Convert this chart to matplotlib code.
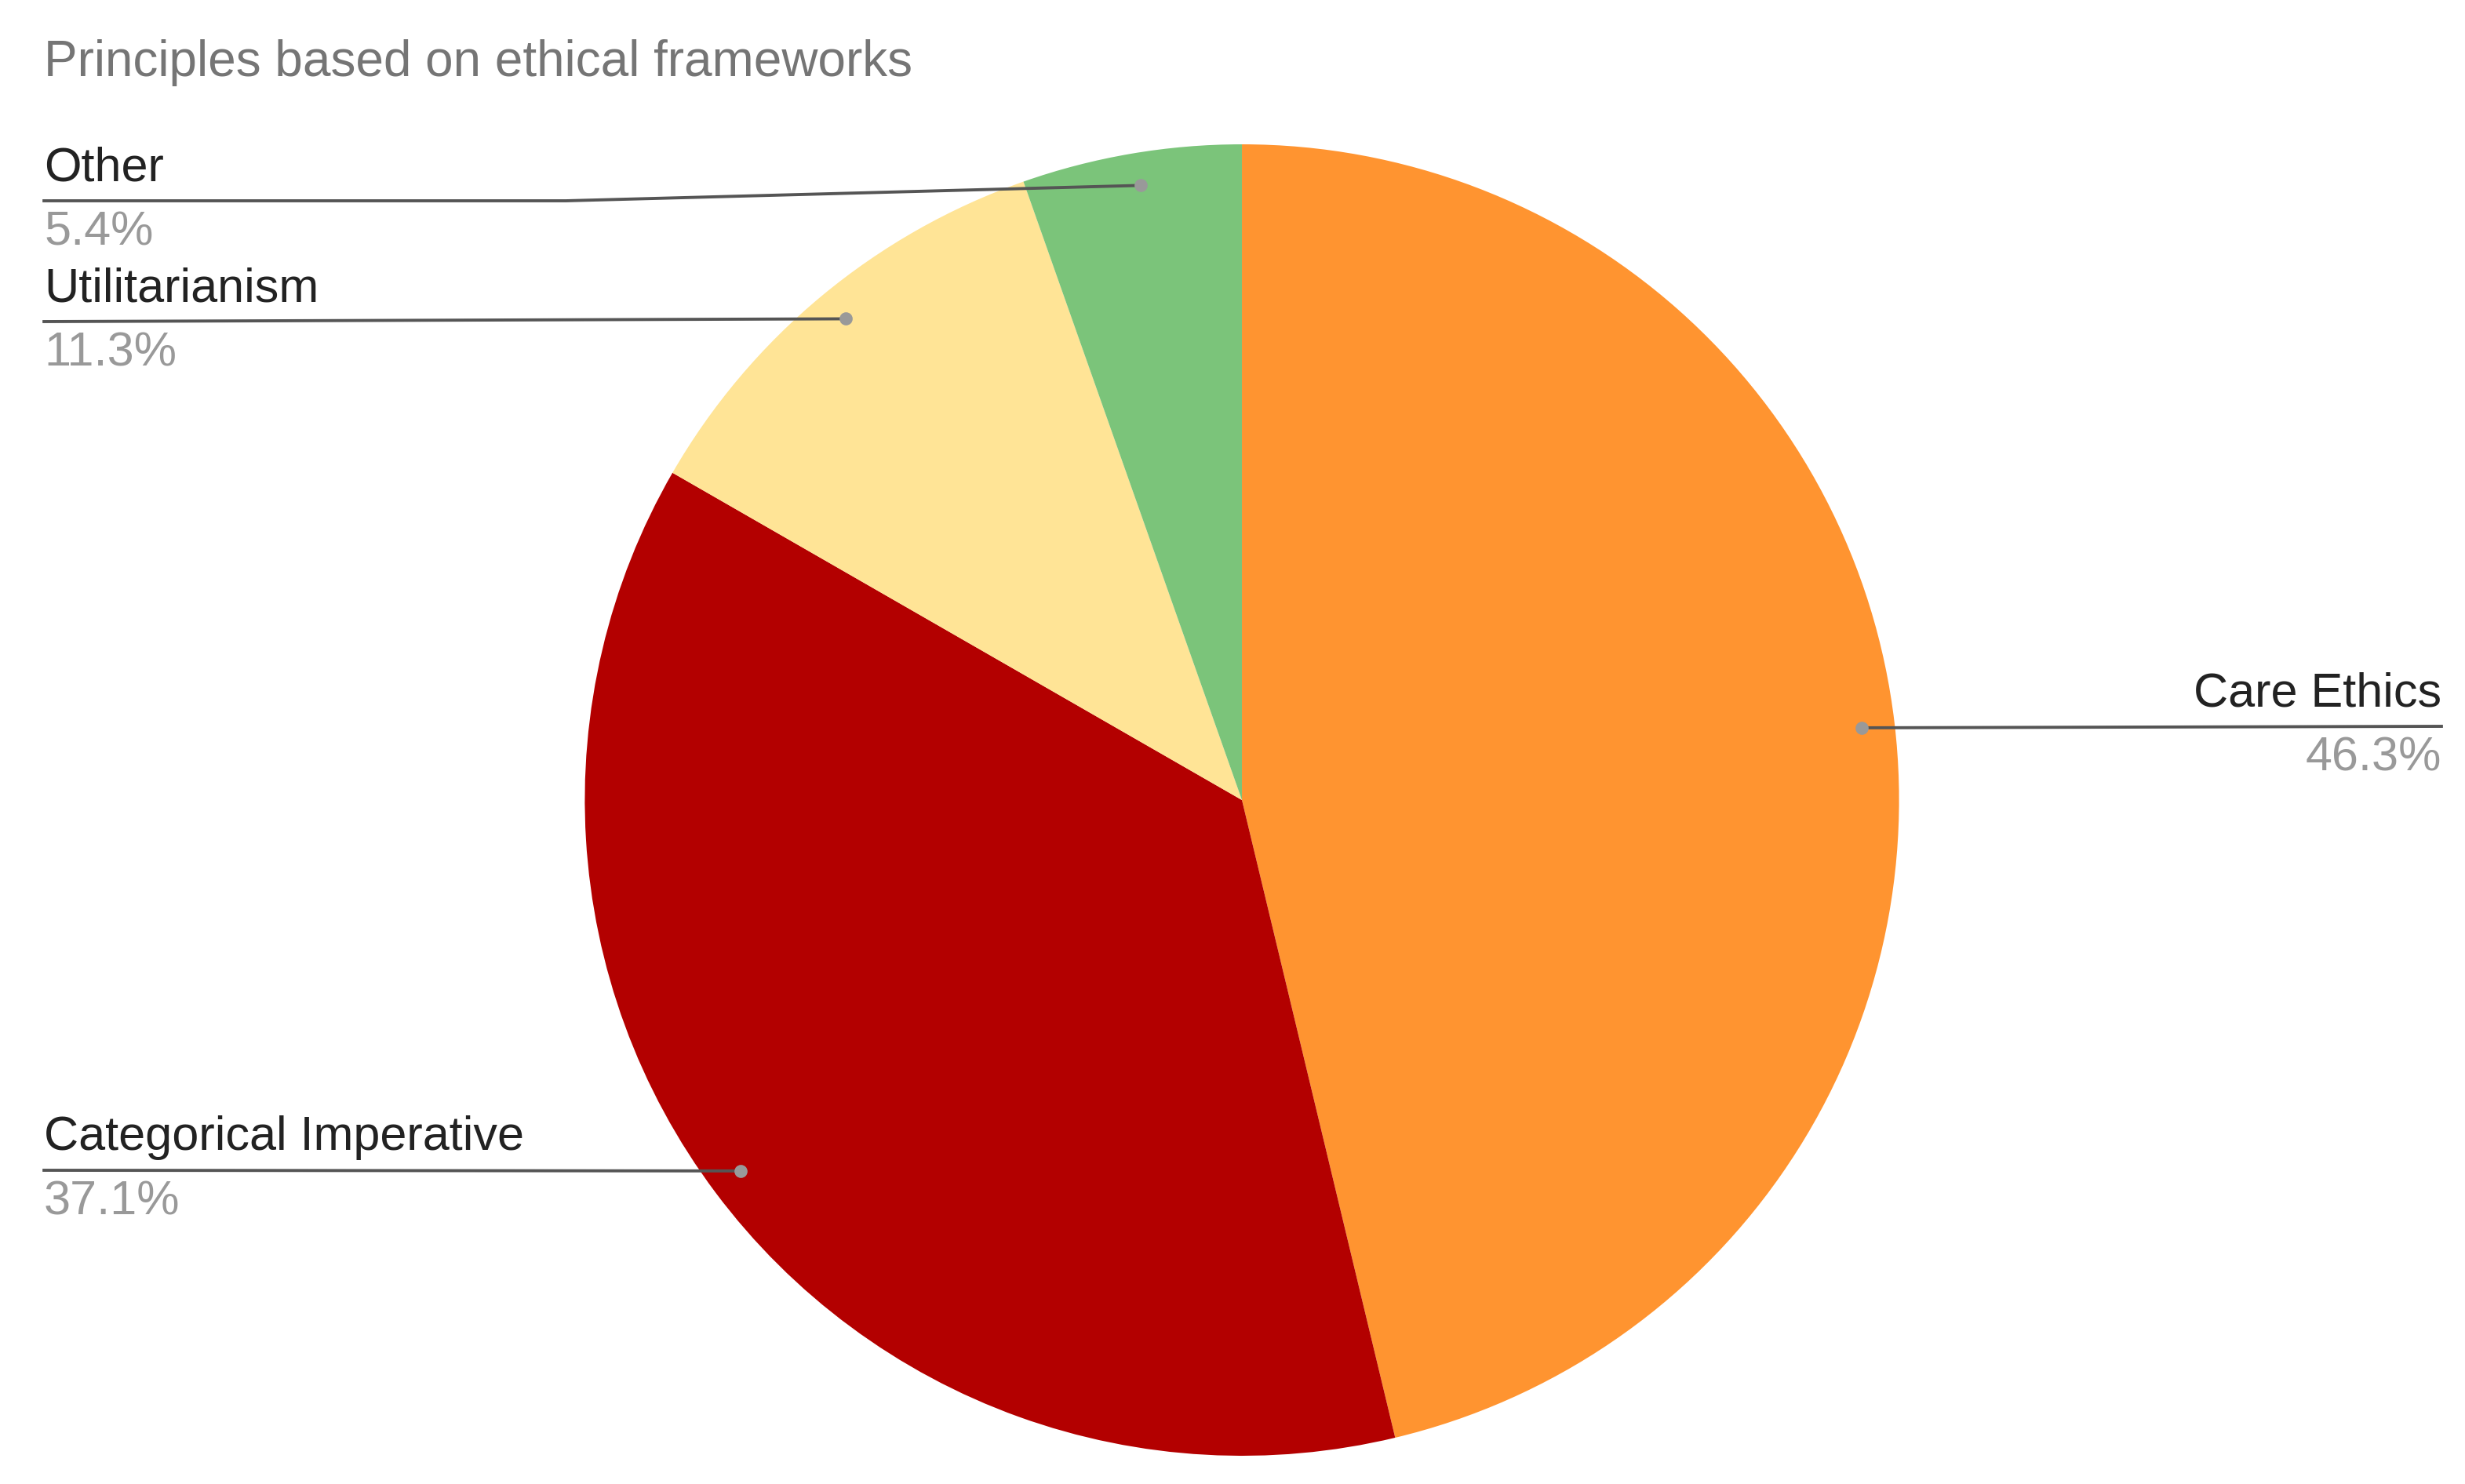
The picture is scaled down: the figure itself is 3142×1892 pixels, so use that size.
import matplotlib.pyplot as plt

plt.rcParams['font.family'] = ['Liberation Sans', 'DejaVu Sans']

labels = ['Care Ethics', 'Categorical Imperative', 'Utilitarianism', 'Other']
values = [46.3, 37.1, 11.3, 5.4]
colors = ['#FF9430', '#B30000', '#FFE496', '#7BC47A']

# reference layout measured in a 1568x946 view, pie radius 418
CX, CY, R = 790, 510, 418


def pt(x, y):
    return (x - CX) / R, (CY - y) / R


fig = plt.figure(figsize=(15.71, 9.46), dpi=200)
ax = fig.add_axes([0, 0, 1, 1])
ax.set_xlim(pt(0, 0)[0], pt(1568, 0)[0])
ax.set_ylim(pt(0, 946)[1], pt(0, 0)[1])
ax.axis('off')

wedges, _ = ax.pie(values, colors=colors, startangle=90, counterclock=False,
                   radius=1, center=(0, 0), frame=True)
ax.set_xlim(pt(0, 0)[0], pt(1568, 0)[0])
ax.set_ylim(pt(0, 946)[1], pt(0, 0)[1])
ax.set_aspect('auto')
ax.axis('off')

# leader lines: (label, line y, left/right, elbow x)
leaders = {
    'Other': (128, 'left', 360),
    'Utilitarianism': (205, 'left', None),
    'Categorical Imperative': (746, 'left', None),
    'Care Ethics': (463, 'right', None),
}

import numpy as np
start = 90.0
for lab, val, w in zip(labels, values, wedges):
    mid = np.deg2rad(start - val * 3.6 / 2)
    start -= val * 3.6
    dx, dy = 0.95 * np.cos(mid), 0.95 * np.sin(mid)
    ly, side, elbow = leaders[lab]
    _, yl = pt(0, ly)
    if side == 'left':
        x0 = pt(28, 0)[0]
        if elbow is not None:
            xe = pt(elbow, 0)[0]
            ax.plot([x0, xe, dx], [yl, yl, dy], color='#555555', lw=1.4)
        else:
            ax.plot([x0, dx], [yl, dy], color='#555555', lw=1.4)
        ha, tx = 'left', x0
    else:
        x1 = pt(1553, 0)[0]
        ax.plot([dx, x1], [dy, yl], color='#555555', lw=1.4)
        ha, tx = 'right', x1
    ax.plot([dx], [dy], 'o', color='#999999', ms=5)
    ax.text(tx, yl + 0.015, lab, ha=ha, va='bottom', fontsize=22, color='#222222')
    ax.text(tx, yl - 0.015, f'{val:.1f}%', ha=ha, va='top', fontsize=22, color='#999999')

tx, ty = pt(28, 40)
ax.text(tx, ty, 'Principles based on ethical frameworks', ha='left', va='center',
        fontsize=23, color='#757575')

fig.savefig('out.png', dpi=200)
